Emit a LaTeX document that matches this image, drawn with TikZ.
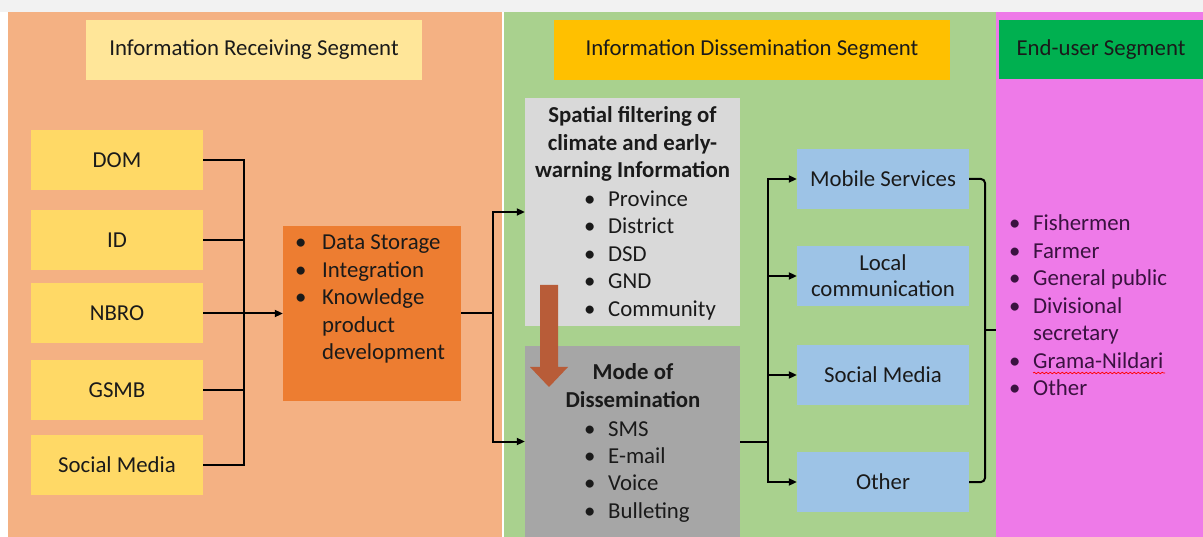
\documentclass[tikz,border=0pt]{standalone}
\usepackage{fontspec}
\setmainfont{Carlito}
\usetikzlibrary{arrows.meta,decorations.pathmorphing}
\definecolor{topbg}{HTML}{F2F2F2}
\definecolor{recv}{HTML}{F4B183}
\definecolor{diss}{HTML}{A9D18E}
\definecolor{enduser}{HTML}{EE7AE8}
\definecolor{tone}{HTML}{FFE699}
\definecolor{ttwo}{HTML}{FFC000}
\definecolor{tthree}{HTML}{00B050}
\definecolor{srcc}{HTML}{FFD966}
\definecolor{storec}{HTML}{ED7D31}
\definecolor{spatc}{HTML}{D9D9D9}
\definecolor{modec}{HTML}{A6A6A6}
\definecolor{bluec}{HTML}{9DC3E6}
\definecolor{brownc}{HTML}{B85C38}
\definecolor{txtc}{HTML}{1A1A1A}
\definecolor{eutxt}{HTML}{3A1240}
\begin{document}
\begin{tikzpicture}[x=1pt,y=-1pt,
  txt/.style={font=\fontsize{22.8}{27.5}\selectfont, text=txtc, inner sep=0},
  btxt/.style={font=\fontsize{22.8}{27.5}\selectfont\bfseries, text=txtc, inner sep=0},
  box/.style={rectangle, inner sep=0, txt, align=center},
  conn/.style={line width=2pt, draw=black},
  arr/.style={conn, -{Triangle[length=8pt,width=7pt]}},
]
\useasboundingbox (0,0) rectangle (1203,537);
% panels
\fill[topbg] (0,0) rectangle (1203,12);
\fill[white] (0,12) rectangle (8,537);
\fill[recv] (8,12) rectangle (502,537);
\fill[white] (502,12) rectangle (504,537);
\fill[diss] (504,12) rectangle (996,537);
\fill[enduser] (996,12) rectangle (1203,537);
% titles
\node[box, fill=tone, minimum width=336, minimum height=60] (ta) at (254,50) {Information Receiving Segment};
\node[box, fill=ttwo, minimum width=396, minimum height=60] (tb) at (752,50) {Information Dissemination Segment};
\node[box, fill=tthree, minimum width=204, minimum height=59] (tc) at (1101,49.5) {End-user Segment};
% sources
\node[box, fill=srcc, minimum width=172, minimum height=60] (dom) at (117,160) {DOM};
\node[box, fill=srcc, minimum width=172, minimum height=60] (id) at (117,240) {ID};
\node[box, fill=srcc, minimum width=172, minimum height=60] (nbro) at (117,313) {NBRO};
\node[box, fill=srcc, minimum width=172, minimum height=60] (gsmb) at (117,390) {GSMB};
\node[box, fill=srcc, minimum width=172, minimum height=60] (smed) at (117,465) {Social Media};
% storage
\node[box, fill=storec, minimum width=178, minimum height=175] (store) at (372,313.5) {};
\node[txt, anchor=base west] (storetxt) at (295,250) {\begin{tabular}[t]{@{}p{27pt}@{}l@{}}\textbullet & Data Storage\\ \textbullet & Integration\\ \textbullet & Knowledge\\ & product\\ & development\end{tabular}};
% spatial filtering
\node[box, fill=spatc, minimum width=215, minimum height=228] (spat) at (632.5,212) {};
\node[btxt, anchor=base] (spattitle) at (632.5,123) {\begin{tabular}[t]{@{}c@{}}Spatial filtering of\\climate and early-\\warning Information\end{tabular}};
\node[txt, anchor=base west] (spatlist) at (584,206.5) {\begin{tabular}[t]{@{}p{24pt}@{}l@{}}\textbullet & Province\\ \textbullet & District\\ \textbullet & DSD\\ \textbullet & GND\\ \textbullet & Community\end{tabular}};
% mode
\node[box, fill=modec, minimum width=215, minimum height=191] (mode) at (632.5,441.5) {};
\node[btxt, anchor=base] (modetitle) at (633,380) {\begin{tabular}[t]{@{}c@{}}Mode of\\Dissemination\end{tabular}};
\node[txt, anchor=base west] (modelist) at (584,436) {\begin{tabular}[t]{@{}p{24pt}@{}l@{}}\textbullet & SMS\\ \textbullet & E-mail\\ \textbullet & Voice\\ \textbullet & Bulleting\end{tabular}};
% brown arrow
\fill[brownc] (540,285) -- (558,285) -- (558,367) -- (568,367) -- (549,387) -- (530,367) -- (540,367) -- cycle;
% channels
\node[box, fill=bluec, minimum width=172, minimum height=60] (mobile) at (883,179) {Mobile Services};
\node[box, fill=bluec, minimum width=172, minimum height=60, font=\fontsize{22.8}{26}\selectfont] (local) at (883,276) {Local\\communication};
\node[box, fill=bluec, minimum width=172, minimum height=60] (social) at (883,375) {Social Media};
\node[box, fill=bluec, minimum width=172, minimum height=60] (other) at (883,482) {Other};
% end users
\node[txt, text=eutxt, anchor=base west] (eulist) at (1009,231) {\begin{tabular}[t]{@{}p{24pt}@{}l@{}}\textbullet & Fishermen\\ \textbullet & Farmer\\ \textbullet & General public\\ \textbullet & Divisional\\ & secretary\\ \textbullet & Grama-Nildari\\ \textbullet & Other\end{tabular}};
\draw[red, line width=0.7pt, decorate, decoration={snake, amplitude=0.8pt, segment length=4pt}] (1033,373) -- (1165,373);
% connectors
\coordinate (ja) at (244,313.5);
\foreach \s in {dom,id,nbro,gsmb,smed} \draw[conn] (\s.east) -| (ja);
\draw[arr] (ja) -- (store.west);
\coordinate (jb) at (493,313.5);
\draw[conn] (store.east) -- (jb);
\draw[arr] (jb) |- (spat.west);
\draw[arr] (jb) |- (mode.west);
\coordinate (jc) at (768,441.5);
\draw[conn] (mode.east) -- (jc);
\foreach \s in {mobile,local,social,other} \draw[arr] (jc) |- (\s.west);
\coordinate (brk) at (985,330);
\coordinate (eu) at (996,330);
\draw[conn, rounded corners=4pt] (mobile.east) -| (brk) |- (other.east);
\draw[conn] (brk) -- (eu);
\end{tikzpicture}
\end{document}
